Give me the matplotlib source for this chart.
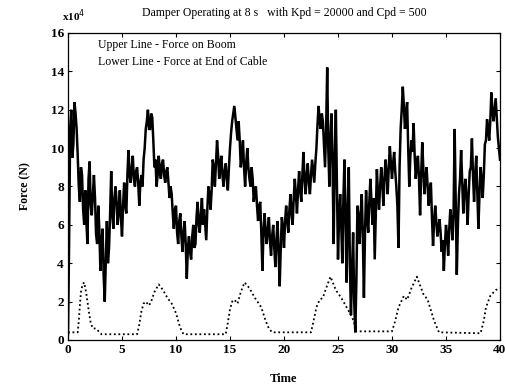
import numpy as np
import matplotlib
matplotlib.use("Agg")
import matplotlib.pyplot as plt

plt.rcParams['font.family'] = ['Liberation Serif', 'DejaVu Serif']

# Upper line - force on boom (x1e4 N)
# readings at t = 0.0, 0.2, ... 40.0 s
upper_force_a = [
    0.3, 11.0, 9.5, 12.4, 11.0, 8.0, 9.0, 6.8, 7.8, 5.0,
    9.3, 6.5, 8.6, 5.5, 7.0, 3.6, 5.8, 2.0, 6.2, 4.8,
    8.8, 5.8, 8.0, 6.0, 7.8, 5.4, 8.2, 6.6, 9.9, 8.2,
    9.6, 8.0, 9.0, 7.0, 8.6, 9.4, 11.0, 12.0, 11.0, 11.6,
    9.0, 8.0, 9.6, 8.4, 9.4, 8.2, 9.0, 7.4, 7.6, 5.8,
    7.0, 5.0, 6.6, 4.6, 6.2, 3.2, 5.4, 4.2, 6.0, 5.0,
    7.2, 5.6, 7.4, 6.8, 5.2, 8.0, 6.8, 9.4, 8.0, 10.4,
    8.4, 9.6, 8.0, 9.2, 7.8, 10.0, 11.4, 12.2, 11.0, 11.4,
    9.0, 10.4, 8.0, 10.0, 8.4, 9.0, 7.2, 8.0, 6.2, 7.2,
    3.6, 6.6, 5.0, 6.4, 4.4, 6.0, 3.8, 6.2, 2.8, 6.4,
    4.8, 7.0, 5.6, 7.6, 6.0, 8.4, 6.6, 8.8, 7.2, 9.8,
    7.6, 9.2, 7.6, 9.4, 8.2, 10.0, 12.2, 11.0, 11.4, 9.0,
    14.2, 8.0, 11.8, 5.0, 12.0, 4.2, 7.6, 4.0, 9.4, 3.0,
    9.0, 1.3, 5.6, 0.4, 7.0, 5.0, 7.6, 2.2, 7.8, 5.6,
    8.4, 6.0, 4.2, 8.9, 6.8, 9.0, 7.0, 9.4, 7.6, 10.1,
    8.4, 9.8, 8.0, 4.8, 11.0, 13.2, 11.0, 12.4, 8.0, 10.4,
    11.3, 8.4, 9.6, 6.5, 10.3, 7.6, 9.0, 7.0, 8.2, 4.9,
    7.0, 5.4, 6.3, 4.6, 3.6, 6.0, 4.4, 6.8, 5.2, 11.0,
    3.4, 7.6, 9.9, 6.6, 8.4, 6.0, 8.8, 10.5, 7.2, 9.6,
    5.8, 9.0, 7.4, 10.2, 11.5, 10.4, 12.9, 11.4, 12.6, 10.6,
    9.4,
]
# readings at t = 0.1, 0.3, ... 39.9 s
upper_force_b = [
    5.0, 12.0, 10.2, 11.8, 9.6, 7.2, 8.6, 6.0, 6.2, 8.4,
    7.0, 7.6, 7.4, 5.0, 5.8, 5.0, 3.4, 4.2, 4.0, 6.6,
    6.6, 7.4, 7.2, 6.8, 6.4, 7.0, 7.0, 8.6, 8.6, 9.0,
    8.4, 8.8, 8.2, 8.2, 8.0, 10.0, 11.4, 11.0, 11.8, 10.4,
    9.4, 8.6, 8.8, 9.2, 8.6, 8.8, 8.2, 8.0, 6.6, 6.8,
    5.6, 6.2, 5.4, 5.6, 5.0, 4.8, 4.6, 5.4, 4.8, 6.4,
    6.0, 6.6, 6.0, 6.0, 6.8, 7.6, 7.8, 9.0, 9.2, 9.6,
    9.2, 8.6, 8.8, 8.4, 9.0, 10.8, 11.8, 11.6, 10.4, 10.4,
    9.6, 9.0, 9.2, 9.0, 8.0, 8.4, 7.8, 7.0, 7.0, 5.6,
    5.6, 5.6, 5.8, 5.2, 5.4, 4.8, 5.2, 4.6, 4.8, 5.8,
    6.2, 6.2, 6.8, 6.6, 7.4, 7.6, 7.8, 7.8, 8.6, 8.4,
    8.6, 8.2, 8.6, 8.8, 9.2, 11.2, 11.4, 11.8, 10.2, 11.0,
    10.0, 10.6, 9.0, 9.6, 8.0, 6.4, 6.0, 7.4, 6.0, 7.0,
    4.0, 3.6, 2.0, 3.0, 6.4, 6.6, 5.4, 5.6, 6.4, 7.2,
    7.2, 7.4, 6.6, 7.6, 8.0, 8.2, 8.4, 8.6, 9.0, 9.2,
    9.2, 8.8, 7.0, 9.0, 12.0, 12.2, 11.8, 10.0, 9.6, 9.8,
    9.6, 9.2, 8.4, 8.6, 9.0, 8.4, 8.0, 7.8, 6.4, 6.2,
    6.2, 5.8, 5.6, 5.2, 5.0, 5.4, 5.8, 6.2, 6.6, 7.0,
    6.0, 8.4, 8.2, 7.8, 7.4, 7.6, 9.0, 8.6, 8.6, 7.6,
    7.6, 8.4, 8.6, 10.4, 11.0, 11.4, 12.0, 12.0, 11.6, 10.0,
]
time_a = np.round(np.arange(len(upper_force_a)) * 0.2, 2)
time_b = np.round(np.arange(len(upper_force_b)) * 0.2 + 0.1, 2)

# Lower line - force at end of cable (x1e4 N)
lower_time = [0, 0.9, 1.0, 1.1, 1.2, 1.35, 1.5, 1.7, 1.9, 2.1,
              2.3, 2.5, 2.7, 2.9, 3.1, 6.4, 6.6, 6.8, 7.0, 7.2,
              7.5, 7.7, 8.0, 8.4, 8.8, 9.2, 9.6, 10.0, 10.3, 10.5,
              10.7, 14.6, 14.8, 15.0, 15.2, 15.4, 15.7, 16.0, 16.35, 16.8,
              17.3, 17.9, 18.3, 18.6, 18.9, 22.5, 22.7, 23.0, 23.3, 23.6,
              23.9, 24.3, 24.8, 25.3, 25.8, 26.3, 26.55, 26.6, 30.0, 30.3,
              30.6, 31.1, 31.4, 31.8, 32.3, 32.9, 33.3, 33.9, 34.35, 38.2,
              38.5, 38.7, 39.1, 39.6, 40.0]
lower_force = [0.4, 0.4, 1.0, 1.8, 2.5, 2.9, 3.0, 2.4, 1.6, 0.9,
               0.6, 0.6, 0.55, 0.4, 0.3, 0.3, 0.8, 1.5, 1.9, 2.0,
               1.8, 2.0, 2.5, 2.9, 2.6, 2.2, 1.9, 1.4, 0.8, 0.5,
               0.3, 0.3, 0.9, 1.6, 2.0, 2.1, 1.9, 2.5, 3.0, 2.7,
               2.2, 1.7, 1.0, 0.6, 0.4, 0.4, 0.9, 1.7, 2.1, 2.2,
               2.7, 3.3, 2.6, 2.2, 1.7, 1.2, 0.8, 0.45, 0.45, 1.0,
               1.7, 2.3, 2.1, 2.7, 3.3, 2.4, 2.1, 1.0, 0.4, 0.35,
               1.0, 1.7, 2.3, 2.6, 2.7]

x_ticks = [0, 5, 10, 15, 20, 25, 30, 35, 40]
y_ticks = [0, 2, 4, 6, 8, 10, 12, 14, 16]

title = "Damper Operating at 8 s   with Kpd = 20000 and Cpd = 500"
legend_lines = ["Upper Line - Force on Boom", "Lower Line - Force at End of Cable"]

# merge the two reading sets in time order
upper_time = np.concatenate([time_a, time_b])
upper_force = np.concatenate([upper_force_a, upper_force_b])
order = np.argsort(upper_time, kind='stable')

fig = plt.figure(figsize=(5.06, 3.85), dpi=100)
ax = fig.add_axes([68/506, 1 - 340/385, 432/506, 307/385])

ax.plot(upper_time[order], upper_force[order], color='black', lw=1.8,
        solid_joinstyle='miter')
ax.plot(lower_time, lower_force, color='black', lw=1.3, ls=(0, (1, 1.5)))

ax.set_xlim(0, 40)
ax.set_ylim(0, 16)
ax.set_xticks(x_ticks)
ax.set_yticks(y_ticks)
ax.tick_params(direction='in', length=3, width=0.8, top=True, right=True,
               labelsize=9.5, pad=3)
for lab in ax.get_xticklabels() + ax.get_yticklabels():
    lab.set_fontweight('bold')
for s in ax.spines.values():
    s.set_linewidth(0.9)

ax.set_xlabel("Time", fontsize=9, fontweight='bold', labelpad=12)
ax.set_ylabel("Force (N)", fontsize=8.5, fontweight='bold', labelpad=14)
ax.text(-0.015, 1.055, r"x10$^{4}$", transform=ax.transAxes, fontsize=8,
        fontweight='bold', ha='left', va='center')
ax.text(0.5, 1.065, title, transform=ax.transAxes, fontsize=8.5,
        ha='center', va='center')
ax.text(0.07, 0.96, legend_lines[0], transform=ax.transAxes, fontsize=8.5,
        ha='left', va='center')
ax.text(0.07, 0.905, legend_lines[1], transform=ax.transAxes, fontsize=8.5,
        ha='left', va='center')

fig.savefig("out.png", dpi=100)
